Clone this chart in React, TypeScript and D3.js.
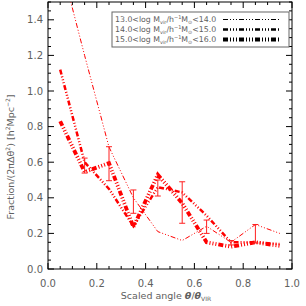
import React, { useRef, useEffect } from "react";
import * as d3 from "d3";

const angles = [0.05, 0.15, 0.25, 0.35, 0.45, 0.55, 0.65, 0.75, 0.85, 0.95];
const low = [1.73, 1.2, 0.685, 0.4, 0.21, 0.16, 0.24, 0.15, 0.25, 0.2];
const mid = [1.12, 0.6, 0.45, 0.24, 0.46, 0.43, 0.3, 0.15, 0.15, 0.14];
const high = [0.83, 0.545, 0.595, 0.236, 0.53, 0.37, 0.15, 0.125, 0.15, 0.13];
const errX = [0.15, 0.25, 0.35, 0.45, 0.55, 0.65, 0.75, 0.85];
const errLo = [0.539, 0.496, 0.313, 0.41, 0.257, 0.2, 0.135, 0.146];
const errHi = [0.623, 0.687, 0.444, 0.5, 0.49, 0.275, 0.16, 0.25];
const legendRanges = [
  ["13.0", "14.0"],
  ["14.0", "15.0"],
  ["15.0", "16.0"],
];
const xTicks = [0, 0.2, 0.4, 0.6, 0.8, 1.0];
const yTicks = [0, 0.2, 0.4, 0.6, 0.8, 1.0, 1.2, 1.4];

const App = () => {
  const ref = useRef<SVGSVGElement>(null);

  useEffect(() => {
    const svg = d3.select(ref.current);
    svg.selectAll("*").remove();

    const left = 48, right = 292, top = 2, bottom = 269;
    const font = "DejaVu Sans, sans-serif";
    const grey = "#606060";

    const x = d3.scaleLinear().domain([0, 1]).range([left, right]);
    const y = d3.scaleLinear().domain([0, 1.5]).range([bottom, top]);

    svg.append("rect").attr("width", 306).attr("height", 306).attr("fill", "#fff");

    const clip = svg.append("clipPath").attr("id", "plotclip");
    clip
      .append("rect")
      .attr("x", left)
      .attr("y", top)
      .attr("width", right - left)
      .attr("height", bottom - top);

    // frame and ticks
    const g = svg.append("g").attr("stroke", "#000").attr("stroke-width", 1);
    g.append("rect")
      .attr("x", left)
      .attr("y", top)
      .attr("width", right - left)
      .attr("height", bottom - top)
      .attr("fill", "none");

    const xMinor = d3.range(0, 1.0001, 0.05);
    xMinor.forEach((v, i) => {
      const len = i % 4 === 0 ? 6 : 3;
      g.append("line").attr("x1", x(v)).attr("x2", x(v)).attr("y1", bottom).attr("y2", bottom - len);
      g.append("line").attr("x1", x(v)).attr("x2", x(v)).attr("y1", top).attr("y2", top + len);
    });
    const yMinor = d3.range(0, 1.5001, 0.05);
    yMinor.forEach((v, i) => {
      const len = i % 4 === 0 ? 6 : 3;
      g.append("line").attr("y1", y(v)).attr("y2", y(v)).attr("x1", left).attr("x2", left + len);
      g.append("line").attr("y1", y(v)).attr("y2", y(v)).attr("x1", right).attr("x2", right - len);
    });

    // tick labels
    svg
      .append("g")
      .selectAll("text")
      .data(xTicks)
      .join("text")
      .attr("x", (d) => x(d))
      .attr("y", 287)
      .attr("text-anchor", "middle")
      .attr("font-family", font)
      .attr("font-size", 10)
      .attr("fill", grey)
      .text((d) => d.toFixed(1));

    svg
      .append("g")
      .selectAll("text")
      .data(yTicks)
      .join("text")
      .attr("x", 43)
      .attr("y", (d) => y(d) + 3.5)
      .attr("text-anchor", "end")
      .attr("font-family", font)
      .attr("font-size", 10)
      .attr("fill", grey)
      .text((d) => d.toFixed(1));

    // axis titles
    const xt = svg
      .append("text")
      .attr("x", 166)
      .attr("y", 299)
      .attr("text-anchor", "middle")
      .attr("font-family", font)
      .attr("font-size", 9.5)
      .attr("fill", grey);
    xt.append("tspan").text("Scaled angle ");
    xt.append("tspan").attr("font-style", "italic").attr("font-weight", "bold").text("θ");
    xt.append("tspan").text("/");
    xt.append("tspan").attr("font-style", "italic").attr("font-weight", "bold").text("θ");
    xt.append("tspan").attr("font-size", 6).attr("dy", 2).text("VIR");

    const yt = svg
      .append("text")
      .attr("transform", "translate(14,157) rotate(-90)")
      .attr("text-anchor", "middle")
      .attr("font-family", font)
      .attr("font-size", 9.5)
      .attr("fill", grey);
    yt.append("tspan").text("Fraction/(2πΔθ");
    yt.append("tspan").attr("font-size", 6).attr("dy", -4).text("2");
    yt.append("tspan").attr("dy", 4).text(")  [h");
    yt.append("tspan").attr("font-size", 6).attr("dy", -4).text("2");
    yt.append("tspan").attr("dy", 4).text("Mpc");
    yt.append("tspan").attr("font-size", 6).attr("dy", -4).text("−2");
    yt.append("tspan").attr("dy", 4).text("]");

    // data lines
    const dash = "5 2 1 2 1 2 1 2";
    const series = [
      { values: low, width: 1 },
      { values: mid, width: 2.5 },
      { values: high, width: 3.8 },
    ];
    const line = d3
      .line<number>()
      .x((d, i) => x(angles[i]))
      .y((d) => y(d));

    const plot = svg.append("g").attr("clip-path", "url(#plotclip)");
    series.forEach((s) => {
      plot
        .append("path")
        .datum(s.values)
        .attr("fill", "none")
        .attr("stroke", "#ff0000")
        .attr("stroke-width", s.width)
        .attr("stroke-dasharray", dash)
        .attr("d", line);
    });

    // error bars
    errX.forEach((v, i) => {
      const eg = plot.append("g").attr("stroke", "#ff2020").attr("stroke-width", 1);
      eg.append("line").attr("x1", x(v)).attr("x2", x(v)).attr("y1", y(errLo[i])).attr("y2", y(errHi[i]));
      eg.append("line").attr("x1", x(v) - 3).attr("x2", x(v) + 3).attr("y1", y(errLo[i])).attr("y2", y(errLo[i]));
      eg.append("line").attr("x1", x(v) - 3).attr("x2", x(v) + 3).attr("y1", y(errHi[i])).attr("y2", y(errHi[i]));
    });

    // legend
    const lg = svg.append("g");
    lg.append("rect")
      .attr("x", 112)
      .attr("y", 12)
      .attr("width", 177)
      .attr("height", 35)
      .attr("fill", "#fff")
      .attr("stroke", "#666")
      .attr("stroke-width", 1);
    legendRanges.forEach((r, i) => {
      const ty = 22 + i * 10;
      const t = lg
        .append("text")
        .attr("x", 115)
        .attr("y", ty)
        .attr("font-family", font)
        .attr("font-size", 7.8)
        .attr("fill", grey);
      t.append("tspan").text(`${r[0]}<log M`);
      t.append("tspan").attr("font-size", 5).attr("dy", 1.5).text("vir");
      t.append("tspan").attr("dy", -1.5).text("/h");
      t.append("tspan").attr("font-size", 5).attr("dy", -3).text("−1");
      t.append("tspan").attr("dy", 3).text("M");
      t.append("tspan").attr("font-size", 5).attr("dy", 1.5).text("⊙");
      t.append("tspan").attr("dy", -1.5).text(`<${r[1]}`);
      lg.append("line")
        .attr("x1", 223)
        .attr("x2", 281)
        .attr("y1", ty - 2.5)
        .attr("y2", ty - 2.5)
        .attr("stroke", "#000")
        .attr("stroke-width", series[i].width)
        .attr("stroke-dasharray", dash);
    });
  }, []);

  return <svg ref={ref} width={306} height={306} style={{ display: "block", position: "absolute", left: 0, top: 0 }}></svg>;
};

export default App;
